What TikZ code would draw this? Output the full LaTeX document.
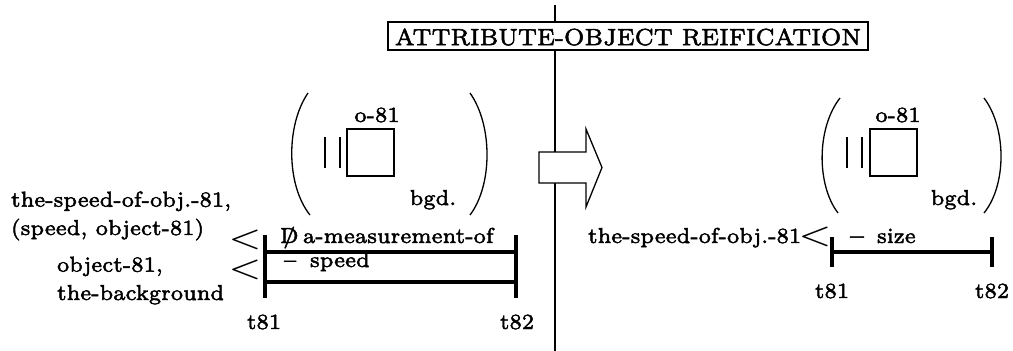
\documentclass[tikz,border=0pt]{standalone}
\newcommand{\heavytext}{\special{pdf:literal direct 2 Tr 0.15 w}}
\begin{document}
\tikzset{
  lbl/.style={font=\fontsize{7}{8.4}\selectfont\heavytext, scale=3.09, inner sep=0pt, outer sep=0pt},
  ltsign/.style={font=\fontsize{7}{8.4}\selectfont, scale=3.09, inner sep=0pt, outer sep=0pt, xscale=1.75, yscale=1.4},
  thinln/.style={line width=1.3pt},
  barln/.style={line width=3.4pt},
}
\begin{tikzpicture}[x=1pt,y=-1pt]
\useasboundingbox (0,0) rectangle (1013,351);
% divider
\coordinate (dtop) at (555,5);
\coordinate (dbot) at (555,351);
\draw[line width=1.4pt] (dtop) -- (dbot);
% title
\node[draw, fill=white, thinln, minimum width=480pt, minimum height=28pt, inner sep=0pt] (title) at (628,36) {};
\node[lbl, scale=1.08] (titletext) at (628,37) {ATTRIBUTE-OBJECT REIFICATION};
% transition arrow
\draw[thinln, fill=white] (539,152) -- (586,152) -- (586,129) -- (602,167.5) -- (586,207) -- (586,183) -- (539,183) -- cycle;

% ---------- left scene ----------
\draw[thinln] (308,93) .. controls (286,125) and (286,185) .. (310,215);
\draw[thinln] (470,93) .. controls (492.7,125) and (492.7,185) .. (470,215);
\draw[thinln] (347,129) rectangle (394,176);
\draw[thinln] (325,137) -- (325,168);
\draw[thinln] (340,137) -- (340,168);
\node[lbl, anchor=base] (lo) at (377,122) {o-81};
\node[lbl, anchor=base] (lb) at (433,205) {bgd.};

\node[lbl, anchor=base west] (l1) at (11,206.7) {the-speed-of-obj.-81,};
\node[lbl, anchor=base west] (l2) at (11,235) {(speed, object-81)};
\node[lbl, anchor=base west] (l3) at (57,271.7) {object-81,};
\node[lbl, anchor=base west] (l4) at (57,300) {the-background};
\node[ltsign] (lt1) at (245,240) {$<$};
\node[ltsign] (lt2) at (245,270) {$<$};

\coordinate (La) at (265,235);
\coordinate (Lb) at (265,298);
\coordinate (Ra) at (516,235);
\coordinate (Rb) at (516,298);
\coordinate (L1) at (265,252);
\coordinate (R1) at (516,252);
\coordinate (L2) at (265,282);
\coordinate (R2) at (516,282);
\draw[barln] (La) -- (Lb);
\draw[barln] (Ra) -- (Rb);
\draw[barln] (L1) -- (R1);
\draw[barln] (L2) -- (R2);
\node[lbl, anchor=base west] (nd) at (280,243) {\ooalign{D\cr\hidewidth/\hidewidth}};
\node[lbl, anchor=base west] (am) at (303,243) {a-measurement-of};
\node[lbl, anchor=base west] (md) at (284,267) {--};
\node[lbl, anchor=base west] (sp) at (310,267) {speed};
\node[lbl, anchor=base] (lt81) at (264,329) {t81};
\node[lbl, anchor=base] (lt82) at (517,329) {t82};

% ---------- right scene ----------
\draw[thinln] (840,98) .. controls (816.5,128) and (816.5,185) .. (838,213);
\draw[thinln] (984,98) .. controls (1006.7,128) and (1006.7,185) .. (984,213);
\draw[thinln] (870,129) rectangle (917,176);
\draw[thinln] (847,137) -- (847,168);
\draw[thinln] (862,137) -- (862,168);
\node[lbl, anchor=base] (ro) at (898,122) {o-81};
\node[lbl, anchor=base] (rb) at (954,205) {bgd.};

\node[lbl, anchor=base west] (r1) at (588,243) {the-speed-of-obj.-81};
\node[ltsign] (rlt) at (815,237) {$<$};
\coordinate (rLa) at (832,237);
\coordinate (rLb) at (832,267);
\coordinate (rRa) at (992,237);
\coordinate (rRb) at (992,267);
\coordinate (rL1) at (832,252);
\coordinate (rR1) at (992,252);
\draw[barln] (rLa) -- (rLb);
\draw[barln] (rRa) -- (rRb);
\draw[barln] (rL1) -- (rR1);
\node[lbl, anchor=base west] (rmd) at (850,243) {\textbf{--}};
\node[lbl, anchor=base west] (rsz) at (877,243) {size};
\node[lbl, anchor=base] (rt81) at (832,298) {t81};
\node[lbl, anchor=base] (rt82) at (992,298) {t82};
\end{tikzpicture}
\end{document}
